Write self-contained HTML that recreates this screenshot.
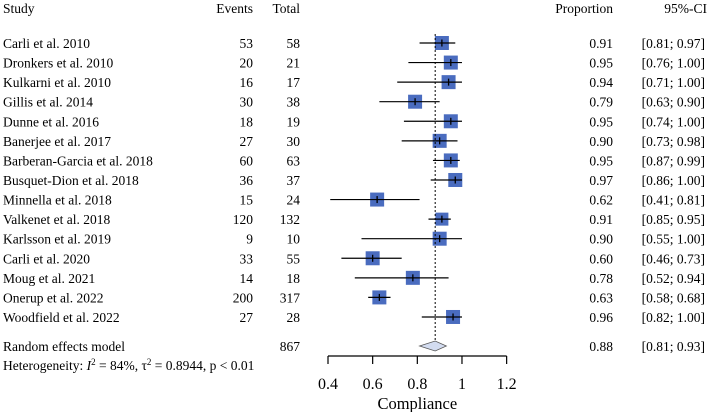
<!DOCTYPE html>
<html><head><meta charset="utf-8"><style>
html,body{margin:0;padding:0;background:#fff;}
svg{display:block;font-family:"Liberation Serif",serif;font-size:13.5px;}
</style></head><body>
<svg id="plot" width="708" height="412" viewBox="0 0 708 412" xmlns="http://www.w3.org/2000/svg">
<g id="hdr">
<text x="3" y="13">Study</text>
<text x="253" y="13" text-anchor="end">Events</text>
<text x="300" y="13" text-anchor="end">Total</text>
<text x="613" y="13" text-anchor="end">Proportion</text>
<text x="707" y="13" text-anchor="end">95%-CI</text>
</g>
<g id="rows"></g>
<g id="summary"></g>
<g id="axis"></g>
</svg>
<script>
const studies=["Carli et al. 2010","Dronkers et al. 2010","Kulkarni et al. 2010","Gillis et al. 2014","Dunne et al. 2016","Banerjee et al. 2017","Barberan-Garcia et al. 2018","Busquet-Dion et al. 2018","Minnella et al. 2018","Valkenet et al. 2018","Karlsson et al. 2019","Carli et al. 2020","Moug et al. 2021","Onerup et al. 2022","Woodfield et al. 2022"];
const events=[53,20,16,30,18,27,60,36,15,120,9,33,14,200,27];
const totals=[58,21,17,38,19,30,63,37,24,132,10,55,18,317,28];
const props=[0.91,0.95,0.94,0.79,0.95,0.90,0.95,0.97,0.62,0.91,0.90,0.60,0.78,0.63,0.96];
const lower=[0.81,0.76,0.71,0.63,0.74,0.73,0.87,0.86,0.41,0.85,0.55,0.46,0.52,0.58,0.82];
const upper=[0.97,1.00,1.00,0.90,1.00,0.98,0.99,1.00,0.81,0.95,1.00,0.73,0.94,0.68,1.00];
const boxSizes=[14,14,14,14,14,14,14,14,14,13,14,14,14,14,14];
const pooled=[0.88,0.81,0.93];
const pooledTotal=867;
const ticks=[0.4,0.6,0.8,1,1.2];

const NS="http://www.w3.org/2000/svg";
const x=v=>328+(v-0.4)*223.3;
const rowY=i=>43+i*19.57;
const PX=613, CX=705;
function mk(tag,attrs,parent,txt){const e=document.createElementNS(NS,tag);for(const k in attrs)e.setAttribute(k,attrs[k]);if(txt!==undefined)e.textContent=txt;parent.appendChild(e);return e;}
const rows=document.getElementById('rows');
const f2=v=>v.toFixed(2);
studies.forEach((s,i)=>{
  const y=rowY(i);
  const g=mk('g',{},rows);
  
  
  let t=mk('text',{x:3,y:y+5},g,s);
  
  t=mk('text',{x:253,y:y+5,'text-anchor':'end'},g,events[i]);
  
  t=mk('text',{x:300,y:y+5,'text-anchor':'end'},g,totals[i]);
  
  t=mk('text',{x:PX,y:y+5,'text-anchor':'end'},g,f2(props[i]));
  
  t=mk('text',{x:CX,y:y+5,'text-anchor':'end'},g,'['+f2(lower[i])+'; '+f2(upper[i])+']');
  
  const b=boxSizes[i];
  let r=mk('rect',{x:x(props[i])-b/2,y:y-b/2,width:b,height:b,fill:'#4a6cbf'},g);
  
  let l=mk('line',{x1:x(lower[i]),x2:x(upper[i]),y1:y,y2:y,stroke:'#000','stroke-width':1.2},g);
  
  l=mk('line',{x1:x(props[i]),x2:x(props[i]),y1:y-3.5,y2:y+3.5,stroke:'#000','stroke-width':1.3},g);
  
});
const sm=document.getElementById('summary');
const sy=346;
let d=mk('line',{x1:x(pooled[0]),x2:x(pooled[0]),y1:34,y2:sy,stroke:'#000','stroke-dasharray':'2,2'},sm);

let dia=mk('polygon',{points:`${x(pooled[1])},${sy} ${x(pooled[0])},${sy-5} ${x(pooled[2])},${sy} ${x(pooled[0])},${sy+5}`,fill:'#d3dcf0',stroke:'#555','stroke-width':0.8},sm);

let t=mk('text',{x:3,y:sy+5},sm,'Random effects model');

t=mk('text',{x:300,y:sy+5,'text-anchor':'end'},sm,pooledTotal);

t=mk('text',{x:PX,y:sy+5,'text-anchor':'end'},sm,f2(pooled[0]));

t=mk('text',{x:CX,y:sy+5,'text-anchor':'end'},sm,'['+f2(pooled[1])+'; '+f2(pooled[2])+']');

const het=mk('text',{x:3,y:sy+24},sm);

het.innerHTML='Heterogeneity: <tspan font-style="italic">I</tspan><tspan dy="-5" font-size="9">2</tspan><tspan dy="5"> = 84%, τ</tspan><tspan dy="-5" font-size="9">2</tspan><tspan dy="5"> = 0.8944, p &lt; 0.01</tspan>';
const ax=document.getElementById('axis');
const ay=356;
let al=mk('line',{x1:x(ticks[0]),x2:x(ticks[ticks.length-1]),y1:ay,y2:ay,stroke:'#000','stroke-width':1.2},ax);

ticks.forEach(v=>{
  const tl=mk('line',{x1:x(v),x2:x(v),y1:ay,y2:ay+8,stroke:'#000','stroke-width':1.2},ax);
  
  const tt=mk('text',{x:x(v),y:ay+33,'text-anchor':'middle','font-size':16},ax,String(v));
  
});
t=mk('text',{x:x(0.8),y:409,'text-anchor':'middle','font-size':16.5},ax,'Compliance');

</script>
</body></html>
